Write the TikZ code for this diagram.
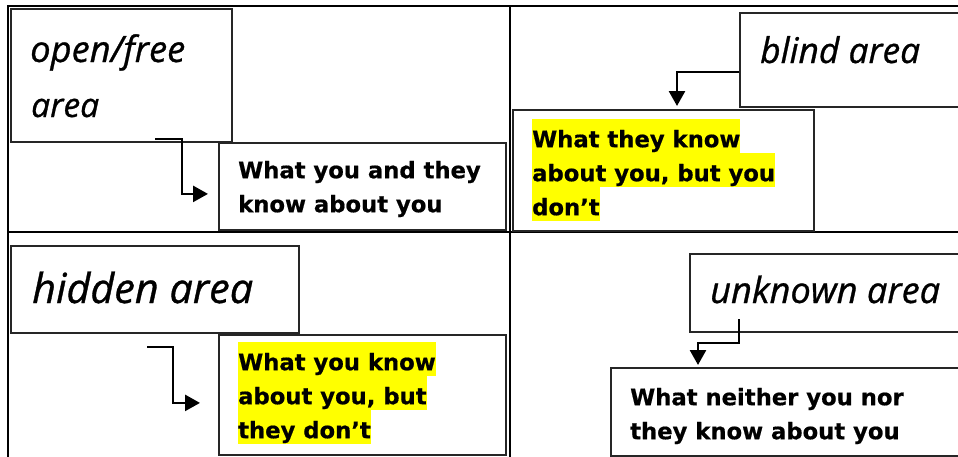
\documentclass[tikz,border=0pt]{standalone}
\usepackage{fontspec}
\usepackage{graphicx}
\usetikzlibrary{arrows.meta}
\newfontfamily\bodyfont{DejaVu Sans}[UprightFont=* Bold, FakeBold=0.6]
\newfontfamily\handfont{Open Sans}[ItalicFeatures={FakeBold=0.8}]
\definecolor{hlyellow}{HTML}{FFFF00}
\definecolor{boxgray}{HTML}{262626}
\newcommand\lnstrut{\rule[-6pt]{0pt}{34pt}}
\newcommand\hlt[1]{{\setlength{\fboxsep}{0pt}\colorbox{hlyellow}{\lnstrut#1}}}
\newcommand\plainln[1]{\lnstrut#1}
\newcommand\handtext[2]{\resizebox{#1}{!}{\handfont\itshape #2}}
\begin{document}
\begin{tikzpicture}[x=1pt,y=-1pt,
  gridline/.style={line width=2.6pt, black},
  areabox/.style={draw=boxgray, line width=1.8pt, inner sep=0pt, anchor=north west},
  handlabel/.style={inner sep=0pt, anchor=base west},
  desc/.style={inner sep=0pt, anchor=north west, align=left,
    font=\bodyfont\fontsize{22.7}{34}\selectfont},
  conn/.style={line width=2.6pt, -{Triangle[length=15pt,width=16pt]}}]
\clip (0,0) rectangle (958,456);
\fill[white] (0,0) rectangle (958,456);
% grid
\draw[gridline] (8,470) -- (8,6) -- (970,6);
\draw[gridline] (510,6) -- (510,470);
\draw[gridline] (7,232) -- (970,232);
% area boxes
\node[areabox, minimum width=221pt, minimum height=133pt] (open) at (10,8) {};
\node[areabox, minimum width=287pt, minimum height=87pt] (ta) at (218,142) {};
\node[areabox, minimum width=230pt, minimum height=94pt] (blind) at (739,12) {};
\node[areabox, minimum width=301pt, minimum height=121pt] (tb) at (512,109) {};
\node[areabox, minimum width=288pt, minimum height=87pt] (hidden) at (10,245) {};
\node[areabox, minimum width=287pt, minimum height=120pt] (tc) at (218,334) {};
\node[areabox, minimum width=280pt, minimum height=78pt] (unknown) at (689,253) {};
\node[areabox, minimum width=360pt, minimum height=88pt] (td) at (610,367) {};
% handwritten labels
\node[handlabel] (openl1) at (30,62) {\handtext{155pt}{open/free}};
\node[handlabel] (openl2) at (31,117) {\handtext{68pt}{area}};
\node[handlabel] (blindl) at (760,63) {\handtext{160pt}{blind area}};
\node[handlabel] (hiddenl) at (32,303) {\handtext{221pt}{hidden area}};
\node[handlabel] (unknownl) at (710,303) {\handtext{230pt}{unknown area}};
% descriptions
\node[desc] (tat) at (238,150) {\plainln{What you and they}\\\plainln{know about you}};
\node[desc] (tbt) at (532,119) {\hlt{What they know}\\\hlt{about you, but you}\\\hlt{don’t}};
\node[desc] (tct) at (238,342) {\hlt{What you know}\\\hlt{about you, but}\\\hlt{they don’t}};
\node[desc] (tdt) at (630,377) {\plainln{What neither you nor}\\\plainln{they know about you}};
% connectors
\coordinate (o1) at (155,139);
\draw[conn] (o1) -- ++(27,0) |- ([xshift=-10pt,yshift=-7.5pt]ta.west);
\draw[conn] ([yshift=-12pt]blind.west) -| ([xshift=165pt,yshift=3pt]tb.north west);
\coordinate (h1) at (147,347);
\draw[conn] (h1) -- ++(26,0) |- ([xshift=-18pt,yshift=-8pt]tc.west);
\coordinate (u1) at (739,319);
\draw[conn] (u1) -- (739,343) -| ([xshift=88pt,yshift=2pt]td.north west);
\end{tikzpicture}
\end{document}
